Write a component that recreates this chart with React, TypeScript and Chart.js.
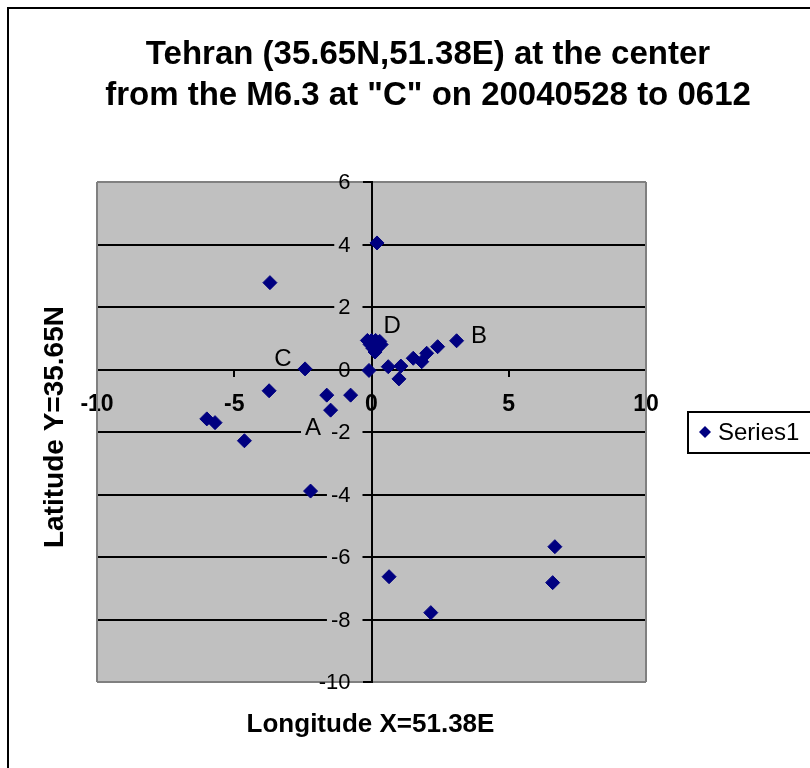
import React, { useEffect, useRef } from "react";
import { Chart, registerables } from "chart.js";

Chart.register(...registerables);

const titleLines = ["Tehran (35.65N,51.38E) at the center", 'from the M6.3 at "C" on 20040528 to 0612'];
const xAxisTitle = "Longitude X=51.38E";
const yAxisTitle = "Latitude Y=35.65N";
const seriesName = "Series1";

const lonX = [
  0.2, -3.7, -2.42, -0.09, 0.61, 1.07, 1.0, 1.52, 1.83, 2.01, 2.41, 3.1,
  -3.73, -1.63, -0.76, -1.49, -6.0, -5.7, -4.63, -2.22, 6.68, 0.64, 6.6, 2.16,
  -0.15, 0.0, 0.15, 0.3, -0.05, 0.15, 0.35, 0.05, 0.2, 0.13,
];
const latY = [
  4.05, 2.78, 0.02, -0.03, 0.09, 0.11, -0.3, 0.36, 0.25, 0.52, 0.73, 0.92,
  -0.68, -0.82, -0.82, -1.3, -1.58, -1.7, -2.28, -3.89, -5.67, -6.63, -6.82, -7.78,
  0.93, 0.93, 0.93, 0.9, 0.8, 0.8, 0.8, 0.68, 0.68, 0.56,
];

const noteText = ["A", "B", "C", "D"];
const noteX = [-2.13, 3.92, -3.23, 0.75];
const noteY = [-1.87, 1.07, 0.32, 1.39];

const FONT = "'Liberation Sans', Arial, sans-serif";
const PLOT_BG = "#C0C0C0";

const decorPlugin = {
  id: "decor",
  beforeDraw(chart: any) {
    const { ctx, chartArea: a } = chart;
    ctx.save();
    ctx.fillStyle = "#ffffff";
    ctx.fillRect(0, 0, chart.width, chart.height);
    ctx.fillStyle = PLOT_BG;
    ctx.fillRect(a.left, a.top, a.right - a.left, a.bottom - a.top);
    ctx.restore();
  },
  beforeDatasetsDraw(chart: any) {
    const { ctx, chartArea: a, scales } = chart;
    ctx.save();
    ctx.strokeStyle = "#808080";
    ctx.lineWidth = 2;
    ctx.beginPath();
    ctx.moveTo(a.left, a.top);
    ctx.lineTo(a.left, a.bottom);
    ctx.moveTo(a.right, a.top);
    ctx.lineTo(a.right, a.bottom);
    ctx.stroke();

    // opaque backgrounds behind the y tick labels inside the plot
    const yScale = scales.y;
    const axisX = scales.x.getPixelForValue(0);
    ctx.font = `22px ${FONT}`;
    ctx.fillStyle = PLOT_BG;
    for (const t of yScale.ticks) {
      if (t.value === 0 || t.value === yScale.max || t.value === yScale.min) continue;
      const w = ctx.measureText(String(t.value)).width;
      const py = yScale.getPixelForValue(t.value);
      const right = axisX - 9;
      const left = axisX - 21 - w - 4;
      ctx.fillRect(left, py - 10, right - left, 20);
    }
    // background behind label A
    ctx.font = `24px ${FONT}`;
    const ax = scales.x.getPixelForValue(noteX[0]);
    const ay = scales.y.getPixelForValue(noteY[0]);
    const aw = ctx.measureText(noteText[0]).width;
    ctx.fillRect(ax - aw / 2 - 4, ay - 10, aw + 16, 20);
    ctx.restore();
  },
  afterDraw(chart: any) {
    const { ctx, chartArea: a, scales } = chart;
    ctx.save();
    // outer frame
    ctx.strokeStyle = "#000";
    ctx.lineWidth = 2;
    ctx.beginPath();
    ctx.moveTo(8, chart.height + 2);
    ctx.lineTo(8, 8);
    ctx.lineTo(chart.width + 2, 8);
    ctx.stroke();

    // y tick labels (Excel style, left of the crossing axis)
    const yScale = scales.y;
    const axisX = scales.x.getPixelForValue(0);
    ctx.fillStyle = "#000";
    ctx.textAlign = "right";
    ctx.textBaseline = "middle";
    ctx.font = `22px ${FONT}`;
    for (const t of yScale.ticks) {
      ctx.fillText(String(t.value), axisX - 21, yScale.getPixelForValue(t.value) + 1);
    }

    // title
    ctx.textAlign = "center";
    ctx.font = `bold 33px ${FONT}`;
    ctx.fillText(titleLines[0], 428, 55);
    ctx.fillText(titleLines[1], 428, 96);

    // axis titles
    ctx.font = `bold 26px ${FONT}`;
    ctx.fillText(xAxisTitle, (a.left + a.right) / 2 - 1, 725);
    ctx.save();
    ctx.font = `bold 28px ${FONT}`;
    ctx.translate(55, 427);
    ctx.rotate(-Math.PI / 2);
    ctx.fillText(yAxisTitle, 0, 0);
    ctx.restore();

    // point notes
    ctx.font = `24px ${FONT}`;
    for (let i = 0; i < noteText.length; i++) {
      const px = scales.x.getPixelForValue(noteX[i]);
      const py = scales.y.getPixelForValue(noteY[i]);
      ctx.fillText(noteText[i], px, py);
    }

    // legend
    ctx.fillStyle = "#fff";
    ctx.fillRect(688, 412, 140, 41);
    ctx.strokeStyle = "#000";
    ctx.lineWidth = 2;
    ctx.strokeRect(688, 412, 140, 41);
    ctx.fillStyle = "#000080";
    ctx.beginPath();
    ctx.moveTo(705, 426);
    ctx.lineTo(711, 432);
    ctx.lineTo(705, 438);
    ctx.lineTo(699, 432);
    ctx.closePath();
    ctx.fill();
    ctx.fillStyle = "#000";
    ctx.textAlign = "left";
    ctx.font = `24px ${FONT}`;
    ctx.fillText(seriesName, 718, 433);
    ctx.restore();
  },
};

export default function App() {
  const ref = useRef<HTMLCanvasElement | null>(null);
  useEffect(() => {
    if (!ref.current) return;
    const data = lonX.map((x, i) => ({ x, y: latY[i] }));
    const chart = new Chart(ref.current, {
      type: "scatter",
      data: {
        datasets: [
          {
            label: seriesName,
            data,
            pointStyle: "rectRot",
            pointRadius: 7,
            pointBorderWidth: 1,
            backgroundColor: "#000080",
            borderColor: "#000080",
          },
        ],
      },
      plugins: [decorPlugin],
      options: {
        responsive: false,
        animation: false,
        devicePixelRatio: 1,
        layout: { padding: { left: 97, top: 182, right: 164, bottom: 86 } },
        plugins: { legend: { display: false }, title: { display: false }, tooltip: { enabled: false } },
        scales: {
          x: {
            type: "linear",
            position: { y: 0 },
            min: -10,
            max: 10,
            ticks: {
              stepSize: 5,
              padding: 15,
              color: "#000",
              font: { family: FONT, size: 23, weight: "bold" },
              maxRotation: 0,
            },
            grid: { drawOnChartArea: false, tickLength: 6, tickColor: "#000", lineWidth: 2 },
            border: { display: true, color: "#000", width: 2 },
          },
          y: {
            type: "linear",
            position: { x: 0 },
            min: -10,
            max: 6,
            ticks: {
              stepSize: 2,
              display: false,
            },
            grid: {
              color: (c: any) => (c.tick && (c.tick.value === 6 || c.tick.value === -10) ? "#808080" : "#000"),
              tickColor: "#000",
              tickLength: 8,
              lineWidth: 2,
            },
            border: { display: true, color: "#000", width: 2 },
          },
        },
      },
    } as any);
    return () => chart.destroy();
  }, []);
  return (
    <div style={{ position: "absolute", left: 0, top: 0, width: 810, height: 768, overflow: "hidden" }}>
      <canvas ref={ref} width={810} height={768} style={{ width: 810, height: 768, display: "block" }} />
    </div>
  );
}
